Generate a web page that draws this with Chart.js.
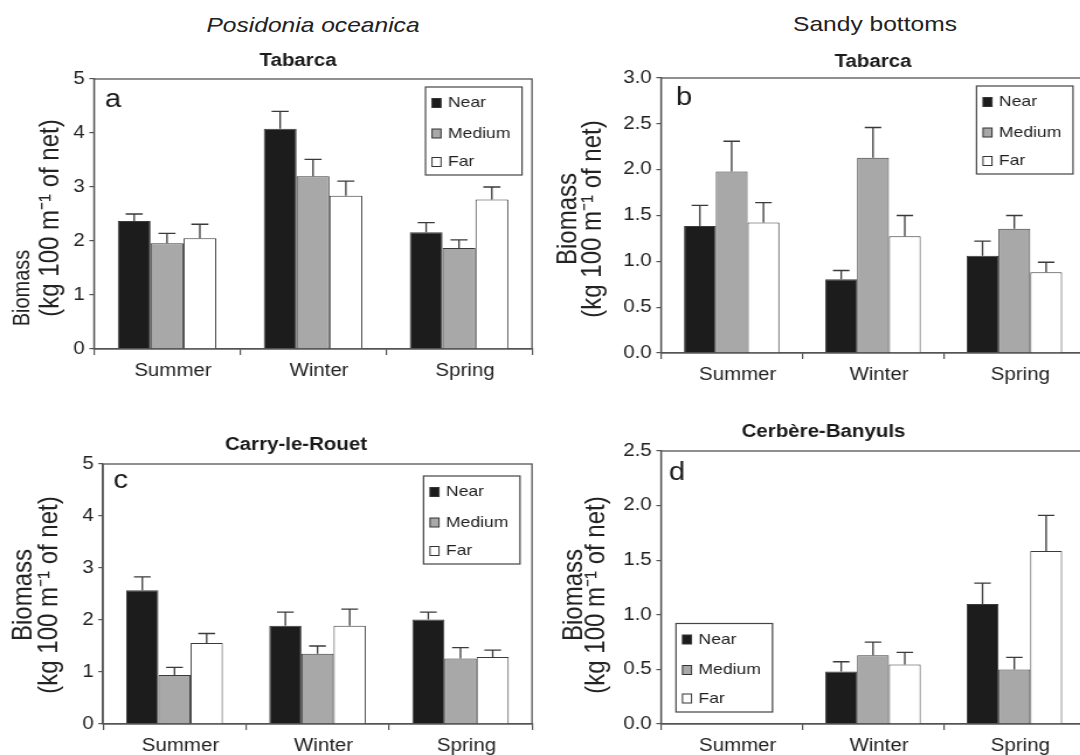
<!DOCTYPE html>
<html>
<head>
<meta charset="utf-8">
<script src="https://cdn.jsdelivr.net/npm/chart.js@4.4.0/dist/chart.umd.min.js"></script>
<style>
html, body { margin: 0; padding: 0; background: #fff; overflow: hidden; width: 1080px; height: 755px; }
canvas { position: absolute; }
.head { position: absolute; font-family: "Liberation Sans", Arial, sans-serif; font-size: 21px; color: #222;
        white-space: nowrap; transform: translate(-50%, -50%) scaleX(1.17); }
</style>
</head>
<body>
<div class="head" style="left:313px; top:25px; font-style:italic">Posidonia oceanica</div>
<div class="head" style="left:875px; top:24px">Sandy bottoms</div>
<canvas id="ca"></canvas>
<canvas id="cb"></canvas>
<canvas id="cc"></canvas>
<canvas id="cd"></canvas>
<script>
// the printed figure is stretched sideways, so each canvas is drawn narrow and widened by CSS
const SX = 1.17;
const FONT = '"Liberation Sans", Arial, Helvetica, sans-serif';

const seasons = ['Summer', 'Winter', 'Spring'];
const distances = ['Near', 'Medium', 'Far'];

// a - Posidonia, Tabarca
const aNear = [2.37, 4.08, 2.16];
const aMedium = [1.96, 3.20, 1.87];
const aFar = [2.05, 2.84, 2.77];
const aNearErr = [0.13, 0.32, 0.18];
const aMediumErr = [0.18, 0.31, 0.15];
const aFarErr = [0.26, 0.27, 0.23];

// b - sandy, Tabarca
const bNear = [1.385, 0.805, 1.06];
const bMedium = [1.98, 2.13, 1.355];
const bFar = [1.425, 1.275, 0.88];
const bNearErr = [0.225, 0.095, 0.16];
const bMediumErr = [0.33, 0.33, 0.145];
const bFarErr = [0.215, 0.225, 0.11];

// c - Posidonia, Carry-le-Rouet
const cNear = [2.57, 1.89, 2.01];
const cMedium = [0.94, 1.35, 1.26];
const cFar = [1.56, 1.89, 1.29];
const cNearErr = [0.26, 0.26, 0.14];
const cMediumErr = [0.15, 0.15, 0.21];
const cFarErr = [0.18, 0.32, 0.13];

// d - sandy, Cerbere-Banyuls (no summer data)
const dNear = [null, 0.48, 1.10];
const dMedium = [null, 0.63, 0.50];
const dFar = [null, 0.545, 1.585];
const dNearErr = [null, 0.09, 0.19];
const dMediumErr = [null, 0.12, 0.11];
const dFarErr = [null, 0.11, 0.325];

const fills = ['#1c1c1c', '#a8a8a8', '#ffffff'];

const panels = [
  { id: 'ca', L: 0, T: 0, W: 540, H: 385, plot: { l: 94, r: 532, t: 79, b: 349 }, max: 5, step: 1, dec: 0,
    series: [aNear, aMedium, aFar], errs: [aNearErr, aMediumErr, aFarErr],
    title: 'Tabarca', titleX: 298, titleY: 61, letter: 'a', letterX: 105, letterY: 107,
    legend: { x: 425.5, y: 87, w: 96.5, h: 88 }, yTitle: { x1: 23, y1: 288, x2: 51, y: 218, size1: 20 } },
  { id: 'cb', L: 540, T: 0, W: 560, H: 385, plot: { l: 661, r: 1085, t: 78, b: 353 }, max: 3, step: 0.5, dec: 1,
    series: [bNear, bMedium, bFar], errs: [bNearErr, bMediumErr, bFarErr],
    title: 'Tabarca', titleX: 873, titleY: 62, letter: 'b', letterX: 676, letterY: 105,
    legend: { x: 976.5, y: 86, w: 96.5, h: 88 }, yTitle: { x1: 569, y1: 219, x2: 593, y: 219, size1: 24 } },
  { id: 'cc', L: 0, T: 400, W: 540, H: 355, plot: { l: 103, r: 532, t: 464, b: 724 }, max: 5, step: 1, dec: 0,
    series: [cNear, cMedium, cFar], errs: [cNearErr, cMediumErr, cFarErr],
    title: 'Carry-le-Rouet', titleX: 296, titleY: 445, letter: 'c', letterX: 113.5, letterY: 488,
    legend: { x: 423.5, y: 476, w: 96.5, h: 88 }, yTitle: { x1: 24, y1: 595, x2: 50, y: 595, size1: 24 } },
  { id: 'cd', L: 540, T: 400, W: 560, H: 355, plot: { l: 661, r: 1085, t: 451, b: 724 }, max: 2.5, step: 0.5, dec: 1,
    series: [dNear, dMedium, dFar], errs: [dNearErr, dMediumErr, dFarErr],
    title: 'Cerbère-Banyuls', titleX: 823.5, titleY: 432, letter: 'd', letterX: 669, letterY: 480,
    legend: { x: 676, y: 623.5, w: 96.5, h: 88.5 }, yTitle: { x1: 574.5, y1: 595, x2: 597, y: 595, size1: 24 } }
];

function makeDeco(p, k) {
  const px = x => (x - p.L) / k;
  const py = y => y - p.T;
  return {
    id: 'deco',
    afterDatasetsDraw(chart) {
      const ctx = chart.ctx, ys = chart.scales.y;
      ctx.save();
      ctx.strokeStyle = '#3a3a3a';
      ctx.lineWidth = 1.3;
      chart.data.datasets.forEach((ds, di) => {
        chart.getDatasetMeta(di).data.forEach((bar, i) => {
          const v = ds.data[i], e = p.errs[di][i];
          if (v == null || e == null) return;
          const yTop = ys.getPixelForValue(v + e);
          const half = bar.width * 0.26;
          ctx.beginPath();
          ctx.moveTo(bar.x, bar.y);
          ctx.lineTo(bar.x, yTop);
          ctx.moveTo(bar.x - half, yTop);
          ctx.lineTo(bar.x + half, yTop);
          ctx.stroke();
        });
      });
      ctx.restore();
    },
    afterDraw(chart) {
      const ctx = chart.ctx, a = chart.chartArea;
      ctx.save();
      // frame
      ctx.strokeStyle = '#555';
      ctx.lineWidth = 1.3;
      ctx.strokeRect(a.left, a.top, a.right - a.left, a.bottom - a.top);

      // panel title
      ctx.fillStyle = '#1a1a1a';
      ctx.font = 'bold 17.5px ' + FONT;
      ctx.textAlign = 'center';
      ctx.textBaseline = 'middle';
      ctx.fillText(p.title, px(p.titleX), py(p.titleY));

      // panel letter
      ctx.font = '25px ' + FONT;
      ctx.textAlign = 'left';
      ctx.textBaseline = 'alphabetic';
      ctx.fillText(p.letter, px(p.letterX), py(p.letterY));

      // y axis title, two rotated lines
      ctx.fillStyle = '#222';
      ctx.textAlign = 'center';
      ctx.textBaseline = 'middle';
      ctx.save();
      ctx.translate(px(p.yTitle.x1), py(p.yTitle.y1));
      ctx.rotate(-Math.PI / 2);
      ctx.font = p.yTitle.size1 + 'px ' + FONT;
      ctx.fillText('Biomass', 0, 0);
      ctx.restore();
      ctx.save();
      ctx.translate(px(p.yTitle.x2), py(p.yTitle.y));
      ctx.rotate(-Math.PI / 2);
      ctx.font = '24px ' + FONT;
      ctx.fillText('(kg 100 m\u207B\u00B9 of net)', 0, 0);
      ctx.restore();

      // legend box
      const lg = p.legend;
      const lx = px(lg.x), ly = py(lg.y), lw = lg.w / k;
      ctx.fillStyle = '#fff';
      ctx.fillRect(lx, ly, lw, lg.h);
      ctx.strokeStyle = '#444';
      ctx.lineWidth = 1.2;
      ctx.strokeRect(lx, ly, lw, lg.h);
      ctx.font = '15px ' + FONT;
      ctx.textAlign = 'left';
      const rows = [16, 46.5, 75];
      chart.data.datasets.forEach((ds, i) => {
        const ry = ly + rows[i];
        ctx.fillStyle = ds.backgroundColor;
        ctx.fillRect(lx + 6.5 / k, ry - 4.5, 9 / k, 9);
        ctx.strokeStyle = '#333';
        ctx.lineWidth = 1;
        ctx.strokeRect(lx + 6.5 / k, ry - 4.5, 9 / k, 9);
        ctx.fillStyle = '#222';
        ctx.fillText(ds.label, lx + 22.5 / k, ry);
      });
      ctx.restore();
    }
  };
}

Chart.defaults.font.family = FONT;
Chart.defaults.color = '#222';

panels.forEach(p => {
  const cv = document.getElementById(p.id);
  const cw = Math.round(p.W / SX);
  const k = p.W / cw;
  cv.width = cw;
  cv.height = p.H;
  cv.style.left = p.L + 'px';
  cv.style.top = p.T + 'px';
  cv.style.width = p.W + 'px';
  cv.style.height = p.H + 'px';

  const yAxisW = (p.plot.l - p.L) / k;
  const rightPad = cw - (p.plot.r - p.L) / k;
  const xAxisH = p.T + p.H - p.plot.b;

  new Chart(cv, {
    type: 'bar',
    data: {
      labels: seasons,
      datasets: distances.map((name, i) => ({
        label: name,
        data: p.series[i],
        backgroundColor: fills[i],
        borderColor: '#3a3a3a',
        borderWidth: 1,
        categoryPercentage: 0.675,
        barPercentage: 1.0
      }))
    },
    options: {
      responsive: false,
      animation: false,
      layout: { autoPadding: false, padding: { left: 0, top: p.plot.t - p.T, right: rightPad, bottom: 0 } },
      plugins: { legend: { display: false }, tooltip: { enabled: false } },
      scales: {
        x: {
          offset: true,
          grid: { offset: true, drawOnChartArea: false, drawTicks: true, tickLength: 6, color: '#555', lineWidth: 1.2 },
          border: { display: true, color: '#555', width: 1.3 },
          ticks: { font: { size: 17.5 }, color: '#222', padding: 6, labelOffset: 6 / k },
          afterFit: s => { s.height = xAxisH; }
        },
        y: {
          min: 0,
          max: p.max,
          grid: { drawOnChartArea: false, drawTicks: true, tickLength: 4, color: '#555', lineWidth: 1.2 },
          border: { display: true, color: '#555', width: 1.3 },
          ticks: { stepSize: p.step, font: { size: 17.5 }, color: '#222', padding: 4,
                   callback: v => Number(v).toFixed(p.dec) },
          afterFit: s => { s.width = yAxisW; }
        }
      }
    },
    plugins: [makeDeco(p, k)]
  });
});
</script>
</body>
</html>
